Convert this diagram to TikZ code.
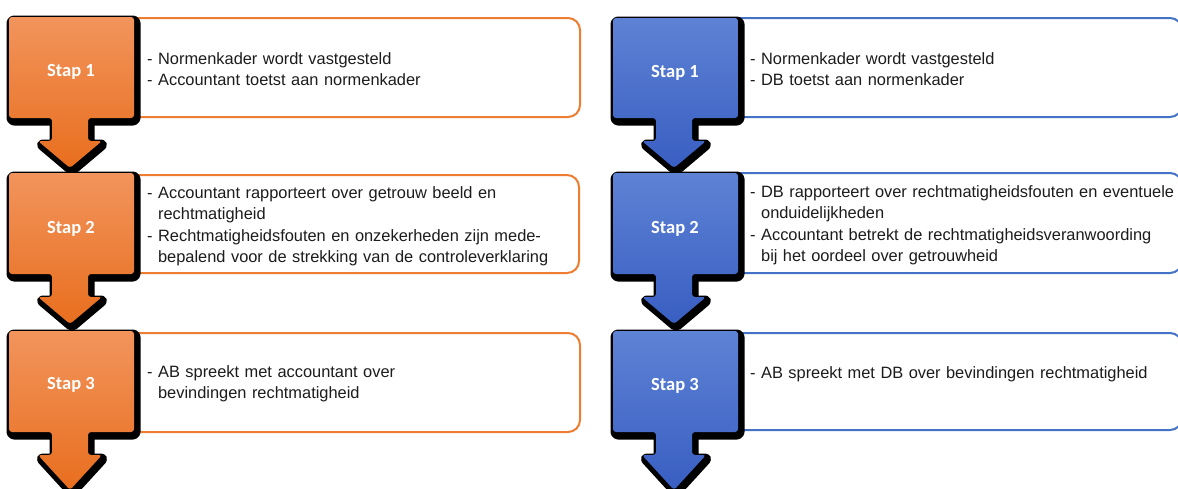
\documentclass[tikz,border=0pt]{standalone}
\usepackage{fontspec}
\setmainfont{Liberation Sans}
\newfontfamily\stapfont{Carlito}
\definecolor{orTop}{RGB}{242,148,92}
\definecolor{orBot}{RGB}{232,110,30}
\definecolor{blTop}{RGB}{94,130,212}
\definecolor{blBot}{RGB}{56,94,194}
\definecolor{orLine}{RGB}{237,125,49}
\definecolor{blLine}{RGB}{68,114,196}
\definecolor{txtcol}{RGB}{28,28,28}
% callout path: #1 centre x, #2 top, #3 square bottom, #4 shoulder y, #5 tip y
\newcommand\stappath[5]{(#1-61,#2) -- (#1+64,#2) -- (#1+64,#3) -- (#1+18,#3) -- (#1+18,#4) -- (#1+32,#4) -- (#1,#5) -- (#1-32,#4) -- (#1-18,#4) -- (#1-18,#3) -- (#1-61,#3) -- cycle}
\newcommand\stapshape[6]{%
  \fill[black,draw=black,line width=9pt,line join=round,rounded corners=3pt,xshift=2pt,yshift=-3pt] \stappath{#1}{#2}{#3}{#4}{#5};
  \shade[top color=#6Top,bottom color=#6Bot,rounded corners=3pt] \stappath{#1}{#2}{#3}{#4}{#5};}
\tikzset{
  orbox/.style={draw=orLine,line width=2pt,rounded corners=12pt,fill=white},
  blbox/.style={draw=blLine,line width=2pt,rounded corners=12pt,fill=white},
  txtnode/.style={inner sep=0pt,anchor=base west,align=left,text=txtcol,
    font=\fontsize{16.4}{21.6}\selectfont},
  staplabel/.style={inner sep=0pt,anchor=base,text=white,font=\stapfont\bfseries\fontsize{18.5}{22}\selectfont}
}
\begin{document}
\begin{tikzpicture}[x=1pt,y=-1pt]
\useasboundingbox (0,0) rectangle (1178,488);
\fill[white] (0,0) rectangle (1178,488);
% text boxes (behind)
\draw[orbox] (118,18) rectangle (580,117);
\draw[orbox] (118,175) rectangle (579,273);
\draw[orbox] (118,333) rectangle (580,432);
\draw[blbox] (722,18) rectangle (1182,117);
\draw[blbox] (722,173) rectangle (1182,273);
\draw[blbox] (722,333) rectangle (1182,430);
% orange callouts
\stapshape{70}{17}{118}{141}{168}{or}
\stapshape{70}{173}{274}{297}{324}{or}
\stapshape{70}{331}{432}{455}{490}{or}
% blue callouts
\stapshape{674}{18}{118}{141}{168}{bl}
\stapshape{674}{173}{274}{297}{324}{bl}
\stapshape{674}{331}{432}{455}{490}{bl}
% labels
\node[staplabel] (os1) at (71,76) {Stap 1};
\node[staplabel] (os2) at (71,233) {Stap 2};
\node[staplabel] (os3) at (71,389) {Stap 3};
\node[staplabel] (bs1) at (675,77) {Stap 1};
\node[staplabel] (bs2) at (675,233) {Stap 2};
\node[staplabel] (bs3) at (675,390) {Stap 3};
% texts
\node[txtnode,text width=425pt] (ot1) at (147,64) {- Normenkader wordt vastgesteld\\- Accountant toetst aan normenkader};
\node[txtnode,text width=425pt] (ot2) at (147,198) {- Accountant rapporteert over getrouw beeld en\\\phantom{-\ }rechtmatigheid\\- Rechtmatigheidsfouten en onzekerheden zijn mede-\\\phantom{-\ }bepalend voor de strekking van de controleverklaring};
\node[txtnode,text width=425pt] (ot3) at (147,377) {- AB spreekt met accountant over\\\phantom{-\ }bevindingen rechtmatigheid};
\node[txtnode,text width=450pt] (bt1) at (750,64) {- Normenkader wordt vastgesteld\\- DB toetst aan normenkader};
\node[txtnode,text width=450pt] (bt2) at (750,197) {- DB rapporteert over rechtmatigheidsfouten en eventuele\\\phantom{-\ }onduidelijkheden\\- Accountant betrekt de rechtmatigheidsveranwoording\\\phantom{-\ }bij het oordeel over getrouwheid};
\node[txtnode,text width=450pt] (bt3) at (750,378) {- AB spreekt met DB over bevindingen rechtmatigheid};
\end{tikzpicture}
\end{document}
